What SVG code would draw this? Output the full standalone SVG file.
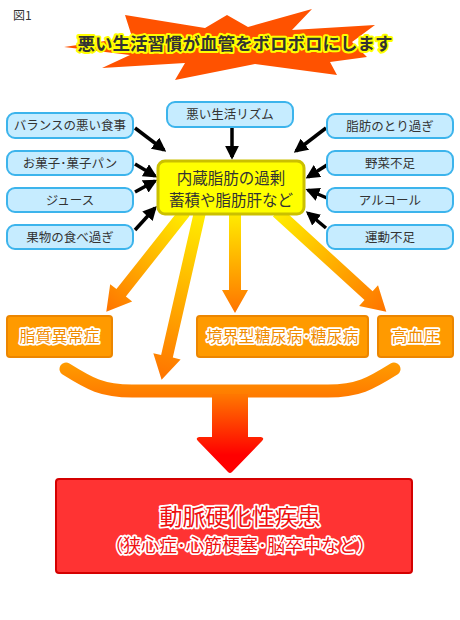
<svg xmlns="http://www.w3.org/2000/svg" width="460" height="620" viewBox="0 0 460 620">
<defs>
<style>
.t{font-family:"Noto Sans CJK JP","Noto Sans",sans-serif;}
.blue rect{fill:#c6ecff;stroke:#3cb4ec;stroke-width:2;}
.blue text{font-size:12.5px;fill:#333;text-anchor:middle;}
.org rect{fill:#ff9a00;stroke:#ec8600;stroke-width:2;}
.org text{font-size:16px;fill:#f08c00;stroke:#fff;stroke-width:3.5px;paint-order:stroke;stroke-linejoin:round;text-anchor:middle;}
.conn line{stroke:#000;stroke-width:3.5;marker-end:url(#ah);}
</style>
<marker id="ah" viewBox="0 0 10 10" refX="8" refY="5" markerWidth="4" markerHeight="4" orient="auto" markerUnits="strokeWidth">
<path d="M0,0 L10,5 L0,10 Z" fill="#000"/>
</marker>
<linearGradient id="ray" x1="0" y1="0" x2="0" y2="1">
<stop offset="0" stop-color="#ffee00"/>
<stop offset="1" stop-color="#ff7300"/>
</linearGradient>
<linearGradient id="brk" gradientUnits="userSpaceOnUse" x1="0" y1="362" x2="0" y2="400">
<stop offset="0" stop-color="#ff9d00"/>
<stop offset="1" stop-color="#ff7700"/>
</linearGradient>
<linearGradient id="stem" gradientUnits="userSpaceOnUse" x1="0" y1="395" x2="0" y2="455">
<stop offset="0" stop-color="#ff7700"/>
<stop offset="1" stop-color="#ff0000"/>
</linearGradient>
</defs>
<rect width="460" height="620" fill="#fff"/>

<text class="t" x="13" y="20" font-size="12" fill="#333">図1</text>

<g id="banner">
<polygon points="64,47 132,37 125,15 205,28 227,15 248,27 312,9 292,30 375,25 352,42 367,57 330,62 337,75 255,64 175,80 185,63 102,68 130,55" fill="#ff5200"/>
<text class="t" x="235" y="50" font-size="17.5" font-weight="bold" fill="#333" stroke="#ffff00" stroke-width="4" stroke-linejoin="round" paint-order="stroke" text-anchor="middle">悪い生活習慣が血管をボロボロにします</text>
</g>

<g id="rays">
<g transform="translate(185,212) rotate(38.3)"><polygon points="-6,0 6,0 6,103 14,103 0,127 -14,103 -6,103" fill="url(#ray)"/></g>
<g transform="translate(200,212) rotate(12.9)"><polygon points="-6,0 6,0 6,148 14,148 0,172 -14,148 -6,148" fill="url(#ray)"/></g>
<g transform="translate(235,212)"><polygon points="-6,0 6,0 6,78 13,78 0,101 -13,78 -6,78" fill="url(#ray)"/></g>
<g transform="translate(277,212) rotate(-47.6)"><polygon points="-6,0 6,0 6,124 14,124 0,148 -14,124 -6,124" fill="url(#ray)"/></g>
</g>

<g class="conn" id="connectors">
<line x1="135" y1="128" x2="164" y2="150"/>
<line x1="135" y1="164" x2="155" y2="176"/>
<line x1="135" y1="192" x2="155" y2="181"/>
<line x1="135" y1="230" x2="155" y2="208"/>
<line x1="232" y1="127" x2="232" y2="157"/>
<line x1="326" y1="128" x2="296" y2="151"/>
<line x1="327" y1="165" x2="308" y2="177"/>
<line x1="327" y1="198" x2="308" y2="190"/>
<line x1="326" y1="228" x2="308" y2="213"/>
</g>

<g id="center">
<rect x="158" y="161" width="146" height="53" rx="7" fill="#ffff00" stroke="#cbc000" stroke-width="3"/>
<text class="t" x="231" y="184" font-size="15.5" fill="#333" text-anchor="middle">内蔵脂肪の過剰</text>
<text class="t" x="231" y="206" font-size="15.5" fill="#333" text-anchor="middle">蓄積や脂肪肝など</text>
</g>

<g class="blue t">
<g id="n1"><rect x="7" y="113" width="126" height="25" rx="8"/><text x="70" y="130">バランスの悪い食事</text></g>
<g id="n2"><rect x="7" y="151" width="126" height="24" rx="8"/><text x="70" y="167.5">お菓子･菓子パン</text></g>
<g id="n3"><rect x="7" y="188" width="126" height="24" rx="8"/><text x="70" y="204.5">ジュース</text></g>
<g id="n4"><rect x="7" y="225" width="126" height="24" rx="8"/><text x="70" y="241.5">果物の食べ過ぎ</text></g>
<g id="n5"><rect x="167" y="102" width="126" height="25" rx="8"/><text x="230" y="119">悪い生活リズム</text></g>
<g id="n6"><rect x="327" y="114" width="126" height="24" rx="8"/><text x="390" y="130.5">脂肪のとり過ぎ</text></g>
<g id="n7"><rect x="327" y="151" width="126" height="24" rx="8"/><text x="390" y="167.5">野菜不足</text></g>
<g id="n8"><rect x="327" y="188" width="126" height="24" rx="8"/><text x="390" y="204.5">アルコール</text></g>
<g id="n9"><rect x="327" y="225" width="126" height="24" rx="8"/><text x="390" y="241.5">運動不足</text></g>
</g>

<g class="org t">
<g id="o1"><rect x="7" y="316" width="105" height="41" rx="3"/><text x="59.5" y="342">脂質異常症</text></g>
<g id="o2"><rect x="197" y="316" width="171" height="41" rx="3"/><text x="282.5" y="342">境界型糖尿病･糖尿病</text></g>
<g id="o3"><rect x="378" y="316" width="75" height="41" rx="3"/><text x="415.5" y="342">高血圧</text></g>
</g>

<g id="merge">
<path d="M66,369 C90,384 102,391 132,391 L328,391 C358,391 370,384 394,369" fill="none" stroke="url(#brk)" stroke-width="13" stroke-linecap="round"/>
<path d="M212,394 L248,394 L248,437 L261,437 Q265,438 262,441 L232,472 Q230,474 228,472 L198,441 Q195,438 199,437 L212,437 Z" fill="url(#stem)"/>
</g>

<g id="result">
<rect x="56" y="479" width="356" height="94" rx="3" fill="#ff3333" stroke="#d40000" stroke-width="2"/>
<text class="t" x="240" y="525" font-size="23" fill="#ee1111" stroke="#fff" stroke-width="3.5" stroke-linejoin="round" paint-order="stroke" text-anchor="middle">動脈硬化性疾患</text>
<text class="t" x="240" y="552" font-size="18" fill="#ee1111" stroke="#fff" stroke-width="3.5" stroke-linejoin="round" paint-order="stroke" text-anchor="middle">（狭心症･心筋梗塞･脳卒中など）</text>
</g>
</svg>
